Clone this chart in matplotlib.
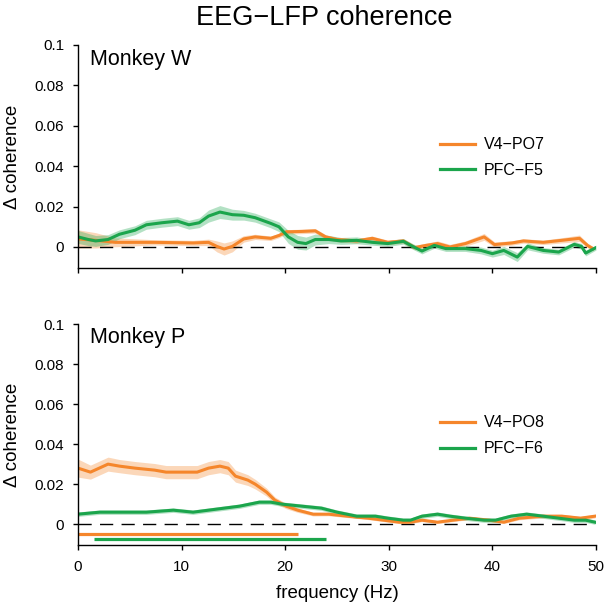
import numpy as np
import matplotlib
matplotlib.use("Agg")
import matplotlib.pyplot as plt

plt.rcParams['font.family'] = ['Liberation Sans', 'DejaVu Sans']

# ---------------- data ----------------
title = "EEG\u2212LFP coherence"
xlabel = "frequency (Hz)"
ylabel = "\u0394 coherence"
xticks = [0, 10, 20, 30, 40, 50]
yticks = [0, 0.02, 0.04, 0.06, 0.08, 0.1]
ytick_labels = ["0", "0.02", "0.04", "0.06", "0.08", "0.1"]

# Monkey W
w_v4_f = [0, 1.7, 3.6, 7.4, 11.1, 12.6, 13.4, 14.1, 14.9, 16.0, 17.1, 18.6, 19.4, 20.1, 21.6, 22.9,
          23.9, 25.0, 26.9, 28.4, 29.9, 31.4, 32.5, 33.6, 34.7, 35.9, 37.4, 39.2, 40.2, 41.9, 43.0,
          44.9, 46.7, 48.4, 49.2, 49.7]
w_v4_m = [0.004, 0.0033, 0.0023, 0.0023, 0.002, 0.0023, 0.0003, -0.001, 0.0003, 0.004, 0.005, 0.0043,
          0.0057, 0.0075, 0.0077, 0.008, 0.005, 0.0037, 0.003, 0.0043, 0.0023, 0.003, -0.0003, 0.0008,
          0.0017, 0.0, 0.0017, 0.005, 0.0012, 0.002, 0.003, 0.0023, 0.0033, 0.0043, 0.0007, -0.0008]
w_v4_s = [0.0045, 0.0038, 0.0022, 0.0013, 0.0013, 0.0016, 0.0027, 0.003, 0.0027, 0.0016, 0.0013, 0.0011,
          0.0011, 0.0011, 0.0011, 0.0011, 0.0011, 0.0011, 0.0011, 0.0011, 0.0011, 0.0011, 0.0011, 0.0011,
          0.0013, 0.0013, 0.0013, 0.0017, 0.0013, 0.0011, 0.0011, 0.0011, 0.0013, 0.0016, 0.0011, 0.0011]

w_pfc_f = [0, 1.0, 1.7, 2.9, 4.0, 5.5, 6.6, 8.1, 9.6, 10.7, 11.7, 12.6, 13.7, 14.9, 16.0, 17.1, 18.6,
           19.4, 20.3, 21.2, 22.0, 22.9, 24.2, 25.4, 26.9, 28.4, 29.9, 31.4, 32.3, 33.2, 34.4, 35.5,
           37.4, 38.9, 40.0, 41.1, 42.4, 43.4, 44.9, 46.4, 47.9, 48.6, 49.0, 50.0]
w_pfc_m = [0.005, 0.0037, 0.003, 0.0037, 0.0063, 0.0083, 0.011, 0.012, 0.0128, 0.011, 0.012, 0.0153,
           0.0173, 0.016, 0.0157, 0.0145, 0.0117, 0.010, 0.005, 0.0023, 0.0017, 0.0037, 0.0037, 0.003,
           0.0033, 0.0023, 0.0017, 0.0028, 0.0003, -0.002, 0.0008, -0.0008, -0.0008, -0.0017, -0.0033,
           -0.0017, -0.005, 0.0003, -0.0017, -0.0025, 0.0013, 0.0003, -0.003, -0.0003]
w_pfc_s = [0.0032, 0.003, 0.0027, 0.0024, 0.0022, 0.0022, 0.0022, 0.0022, 0.0022, 0.0022, 0.0024, 0.003,
           0.0032, 0.0027, 0.0024, 0.0022, 0.0022, 0.0024, 0.0032, 0.0034, 0.0032, 0.0027, 0.002, 0.0017,
           0.0017, 0.0014, 0.0014, 0.0014, 0.0014, 0.0014, 0.0014, 0.0014, 0.0014, 0.0017, 0.0017,
           0.002, 0.0022, 0.0017, 0.0014, 0.0014, 0.0014, 0.0014, 0.0014, 0.0012]

# Monkey P
p_v4_f = [0, 1.2, 2.9, 4.0, 5.5, 7.4, 8.5, 10.0, 11.5, 12.6, 13.7, 14.5, 15.2, 16.4, 17.1, 18.2, 19.0,
          20.1, 21.2, 22.7, 24.2, 26.0, 28.0, 29.5, 31.0, 32.1, 33.2, 34.7, 36.2, 37.8, 39.7, 41.1,
          42.6, 44.9, 46.7, 48.5, 49.9]
p_v4_m = [0.028, 0.026, 0.030, 0.029, 0.028, 0.027, 0.026, 0.026, 0.026, 0.028, 0.029, 0.028, 0.024,
          0.022, 0.020, 0.016, 0.012, 0.009, 0.007, 0.005, 0.005, 0.004, 0.003, 0.002, 0.001, 0.001,
          0.002, 0.001, 0.002, 0.003, 0.002, 0.001, 0.003, 0.004, 0.004, 0.003, 0.004]
p_v4_s = [0.0045, 0.0035, 0.0035, 0.0033, 0.0033, 0.0033, 0.0033, 0.0033, 0.0033, 0.0033, 0.0033,
          0.0033, 0.003, 0.0027, 0.0024, 0.002, 0.0016, 0.0013, 0.0011, 0.0009, 0.0008, 0.0007, 0.0007,
          0.0007, 0.0007, 0.0007, 0.0007, 0.0007, 0.0007, 0.0007, 0.0007, 0.0007, 0.0008, 0.0009,
          0.0009, 0.0009, 0.0009]

p_pfc_f = [0, 2.1, 4.4, 6.6, 9.2, 11.1, 12.6, 14.1, 15.6, 17.5, 18.6, 19.7, 21.6, 23.5, 25.0, 26.9,
           28.7, 29.9, 31.4, 32.1, 33.2, 34.7, 35.9, 37.4, 39.2, 40.3, 41.8, 43.3, 44.9, 46.4, 47.9,
           49.0, 49.9]
p_pfc_m = [0.005, 0.006, 0.006, 0.006, 0.007, 0.006, 0.007, 0.008, 0.009, 0.011, 0.011, 0.010, 0.009,
           0.008, 0.006, 0.004, 0.004, 0.003, 0.002, 0.002, 0.004, 0.005, 0.004, 0.003, 0.002, 0.002,
           0.004, 0.005, 0.004, 0.003, 0.002, 0.002, 0.001]
p_pfc_s = [0.0011] * len(p_pfc_f)

# significance bars (start, end in Hz)
p_v4_sig = (0, 21.2)
p_pfc_sig = (1.5, 23.9)

panels = [
    dict(name="Monkey W", series=[
        ("V4\u2212PO7", w_v4_f, w_v4_m, w_v4_s),
        ("PFC\u2212F5", w_pfc_f, w_pfc_m, w_pfc_s)], sig=None),
    dict(name="Monkey P", series=[
        ("V4\u2212PO8", p_v4_f, p_v4_m, p_v4_s),
        ("PFC\u2212F6", p_pfc_f, p_pfc_m, p_pfc_s)], sig=[p_v4_sig, p_pfc_sig]),
]

colors = ['#F5862B', '#1BA54C']
sig_levels = [-0.0048, -0.0075]

W = 608
fig = plt.figure(figsize=(6.08, 6.08), dpi=100)
rects = [
    [78 / W, 1 - 268 / W, 518 / W, 223 / W],
    [78 / W, 1 - 545 / W, 518 / W, 221 / W],
]

for i, (panel, rect) in enumerate(zip(panels, rects)):
    ax = fig.add_axes(rect)
    for (lab, f, m, s), c in zip(panel["series"], colors):
        f = np.asarray(f); m = np.asarray(m); s = np.asarray(s)
        ax.fill_between(f, m - s, m + s, color=c, alpha=0.33, linewidth=0)
        ax.plot(f, m, color=c, lw=2.2, label=lab, solid_joinstyle='round')
    ax.axhline(0, xmin=0, xmax=0.99, color='black', lw=1.0, dashes=(9.5, 6), zorder=1)
    if panel["sig"] is not None:
        for (a, b), c, lvl in zip(panel["sig"], colors, sig_levels):
            ax.plot([a, b], [lvl, lvl], color=c, lw=2.3, solid_capstyle='butt')
    ax.set_xlim(0, 50)
    ax.set_ylim(-0.0104, 0.1)
    ax.set_xticks(xticks)
    ax.set_yticks(yticks)
    ax.set_yticklabels(ytick_labels)
    if i == 1:
        ax.set_xticklabels([str(t) for t in xticks])
        ax.set_xlabel(xlabel, fontsize=13.5, labelpad=8.5)
    else:
        ax.set_xticklabels([])
    ax.spines['top'].set_visible(False)
    ax.spines['right'].set_visible(False)
    for sp in ['left', 'bottom']:
        ax.spines[sp].set_linewidth(1.0)
    ax.tick_params(axis='both', direction='out', length=3.5, width=1.0, labelsize=11)
    ax.tick_params(axis='y', pad=6.5)
    ax.tick_params(axis='x', pad=7)
    ax.set_ylabel(ylabel, fontsize=13.5)
    ax.yaxis.set_label_coords(-0.11, 0.5)
    ax.text(0.023, 0.912, panel["name"], transform=ax.transAxes, fontsize=15.5,
            va='baseline', ha='left')
    ax.legend(loc='upper left', bbox_to_anchor=(0.699, 0.587),
              frameon=False, fontsize=11.5, handlelength=2.2, handletextpad=0.55,
              labelspacing=0.68, borderpad=0, borderaxespad=0)
    for lh in ax.get_legend().get_lines():
        lh.set_linewidth(2.3)

fig.text(324 / W, 1 - 25 / W, title, ha='center', va='baseline', fontsize=19.5)

fig.savefig("out.png", dpi=100)
